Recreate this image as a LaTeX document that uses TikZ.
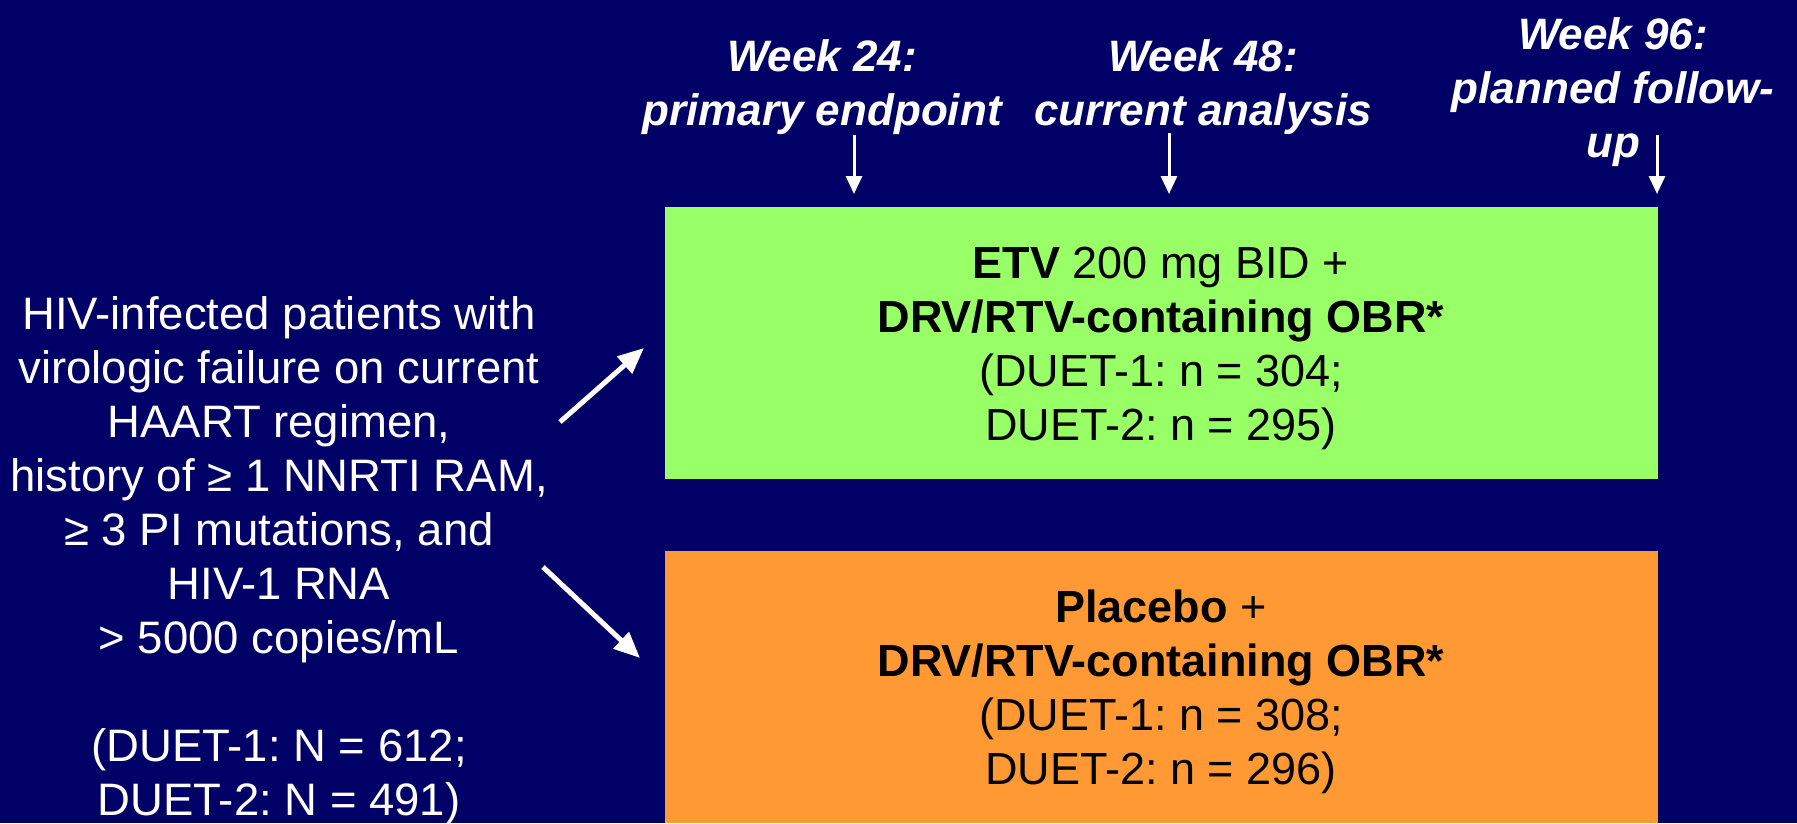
\documentclass[tikz,border=0pt]{standalone}
\usepackage{fontspec}
\setmainfont{Liberation Sans}
\usetikzlibrary{arrows.meta}
\definecolor{bgnavy}{RGB}{0,0,102}
\definecolor{boxgreen}{RGB}{153,255,102}
\definecolor{boxorange}{RGB}{255,153,51}
\frenchspacing
\begin{document}
\begin{tikzpicture}[x=1pt,y=-1pt,
  txt/.style={font=\fontsize{45}{54}\selectfont\frenchspacing, align=center, inner sep=0pt, anchor=base},
  wtxt/.style={txt, text=white, font=\fontsize{45.5}{54}\selectfont\frenchspacing},
  ktxt/.style={txt, text=black},
  wklabel/.style={txt, text=white, font=\fontsize{44}{54}\selectfont\bfseries\itshape},
  tickarrow/.style={draw=white, line width=3pt, -{Triangle[length=18pt,width=16pt]}},
  bigarrow/.style={draw=white, line width=5pt, -{Triangle[length=26pt,width=22pt]}}
]
\useasboundingbox (0,0) rectangle (1797,823);
\fill[bgnavy] (0,0) rectangle (1797,823);

% arm boxes
\fill[boxgreen] (665,207) rectangle (1658,479);
\fill[boxorange] (665,551) rectangle (1658,823);

% (anchor=base is the baseline of the last line)
\node[ktxt] (etv) at (1161,440) {\textbf{ETV} 200 mg BID +\\
\textbf{DRV/RTV-containing OBR*}\\
(DUET-1: n = 304;\\
DUET-2: n = 295)};

\node[ktxt] (pbo) at (1161,784) {\textbf{Placebo} +\\
\textbf{DRV/RTV-containing OBR*}\\
(DUET-1: n = 308;\\
DUET-2: n = 296)};

% left text
\node[wtxt] (pop) at (279,815) {HIV-infected patients with\\
virologic failure on current\\
HAART regimen,\\
history of ≥ 1 NNRTI RAM,\\
≥ 3 PI mutations, and\\
HIV-1 RNA\\
> 5000 copies/mL\\[54pt]
(DUET-1: N = 612;\\
DUET-2: N = 491)};

% week labels
\node[wklabel] (w24) at (822,125) {Week 24:\\ primary endpoint};
\node[wklabel] (w48) at (1203,125) {Week 48:\\ current analysis};
\node[wklabel] (w96) at (1613,157) {Week 96:\\ planned follow-\\ up};

% tick arrows
\coordinate (a24s) at (854,135); \coordinate (a24e) at (854,194);
\coordinate (a48s) at (1169,133); \coordinate (a48e) at (1169,194);
\coordinate (a96s) at (1657,135); \coordinate (a96e) at (1657,194);
\draw[tickarrow] (a24s) -- (a24e);
\draw[tickarrow] (a48s) -- (a48e);
\draw[tickarrow] (a96s) -- (a96e);

% randomisation arrows
\coordinate (r1s) at (560,422); \coordinate (r1e) at (644,348);
\coordinate (r2s) at (543,567); \coordinate (r2e) at (640,658);
\draw[bigarrow] (r1s) -- (r1e);
\draw[bigarrow] (r2s) -- (r2e);
\end{tikzpicture}
\end{document}
